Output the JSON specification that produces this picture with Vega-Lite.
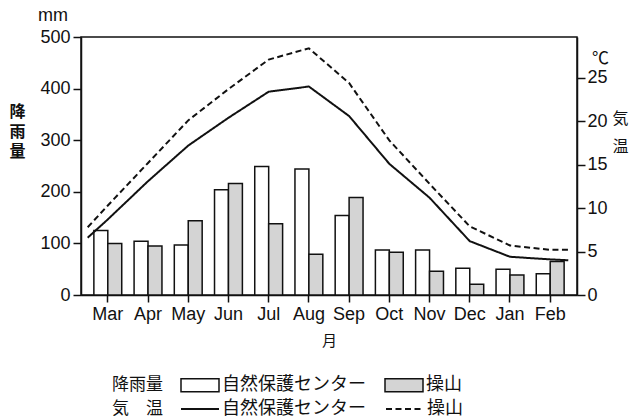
{
  "$schema": "https://vega.github.io/schema/vega-lite/v6.json",
  "width": 496,
  "height": 258,
  "autosize": {"type": "none"},
  "padding": {"left": 81, "top": 37, "right": 56, "bottom": 124},
  "title": {"text": "mm", "anchor": "start", "frame": "group", "dx": -43, "offset": -11, "baseline": "alphabetic", "fontSize": 18, "fontWeight": "normal", "color": "#111"},
  "config": {
    "font": "Liberation Sans, Noto Sans CJK JP, sans-serif",
    "view": {"stroke": "#111", "strokeWidth": 1.5},
    "axis": {"domainColor": "#111", "domainWidth": 1.5, "tickColor": "#111", "tickWidth": 1.5, "labelColor": "#111", "titleColor": "#111", "grid": false, "labelFontSize": 18, "titleFontWeight": "normal"},
    "legend": {"labelColor": "#111", "titleColor": "#111", "labelLimit": 300, "titleLimit": 300}
  },
  "datasets": {
    "rain": [
      {"month": "Mar", "site": "自然保護センター", "rain": 125}, {"month": "Mar", "site": "操山", "rain": 100},
      {"month": "Apr", "site": "自然保護センター", "rain": 104}, {"month": "Apr", "site": "操山", "rain": 95},
      {"month": "May", "site": "自然保護センター", "rain": 97}, {"month": "May", "site": "操山", "rain": 144},
      {"month": "Jun", "site": "自然保護センター", "rain": 204}, {"month": "Jun", "site": "操山", "rain": 216},
      {"month": "Jul", "site": "自然保護センター", "rain": 249}, {"month": "Jul", "site": "操山", "rain": 138},
      {"month": "Aug", "site": "自然保護センター", "rain": 244}, {"month": "Aug", "site": "操山", "rain": 79},
      {"month": "Sep", "site": "自然保護センター", "rain": 154}, {"month": "Sep", "site": "操山", "rain": 189},
      {"month": "Oct", "site": "自然保護センター", "rain": 87}, {"month": "Oct", "site": "操山", "rain": 83},
      {"month": "Nov", "site": "自然保護センター", "rain": 87}, {"month": "Nov", "site": "操山", "rain": 46},
      {"month": "Dec", "site": "自然保護センター", "rain": 52}, {"month": "Dec", "site": "操山", "rain": 21},
      {"month": "Jan", "site": "自然保護センター", "rain": 50}, {"month": "Jan", "site": "操山", "rain": 39},
      {"month": "Feb", "site": "自然保護センター", "rain": 41}, {"month": "Feb", "site": "操山", "rain": 65}
    ],
    "temp": [
      {"pos": -0.5, "station": "自然保護センター", "temp": 6.6}, {"pos": 0, "station": "自然保護センター", "temp": 8.7},
      {"pos": 1, "station": "自然保護センター", "temp": 13.1}, {"pos": 2, "station": "自然保護センター", "temp": 17.2},
      {"pos": 3, "station": "自然保護センター", "temp": 20.4}, {"pos": 4, "station": "自然保護センター", "temp": 23.4},
      {"pos": 5, "station": "自然保護センター", "temp": 24.0}, {"pos": 6, "station": "自然保護センター", "temp": 20.6},
      {"pos": 7, "station": "自然保護センター", "temp": 15.1}, {"pos": 8, "station": "自然保護センター", "temp": 11.2},
      {"pos": 9, "station": "自然保護センター", "temp": 6.2}, {"pos": 10, "station": "自然保護センター", "temp": 4.4},
      {"pos": 11, "station": "自然保護センター", "temp": 4.1}, {"pos": 11.45, "station": "自然保護センター", "temp": 4.0},
      {"pos": -0.5, "station": "操山", "temp": 7.8}, {"pos": 0, "station": "操山", "temp": 10.3},
      {"pos": 1, "station": "操山", "temp": 15.2}, {"pos": 2, "station": "操山", "temp": 20.1},
      {"pos": 3, "station": "操山", "temp": 23.7}, {"pos": 4, "station": "操山", "temp": 27.1},
      {"pos": 5, "station": "操山", "temp": 28.4}, {"pos": 6, "station": "操山", "temp": 24.4},
      {"pos": 7, "station": "操山", "temp": 17.8}, {"pos": 8, "station": "操山", "temp": 12.8},
      {"pos": 9, "station": "操山", "temp": 7.9}, {"pos": 10, "station": "操山", "temp": 5.7},
      {"pos": 11, "station": "操山", "temp": 5.2}, {"pos": 11.45, "station": "操山", "temp": 5.2}
    ]
  },
  "layer": [
    {
      "data": {"name": "rain"},
      "mark": {"type": "bar", "stroke": "#111", "strokeWidth": 1.5},
      "encoding": {
        "x": {"field": "month", "type": "nominal", "sort": null,
          "scale": {"paddingInner": 0.307, "paddingOuter": 0.32, "round": false},
          "axis": {"labelAngle": 0, "tickSize": 7, "labelPadding": 3, "title": "月", "titleFontSize": 15, "titlePadding": 10}},
        "xOffset": {"field": "site", "type": "nominal", "scale": {"domain": ["自然保護センター", "操山"], "paddingInner": 0, "paddingOuter": 0}},
        "y": {"field": "rain", "type": "quantitative", "scale": {"domain": [0, 500], "nice": false},
          "axis": {"values": [0, 100, 200, 300, 400, 500], "tickSize": 8, "labelPadding": 3,
            "title": ["降", "雨", "量"], "titleAngle": 0, "titleX": -64, "titleY": 66, "titleBaseline": "top", "titleAlign": "center", "titleLineHeight": 20, "titleFontSize": 16, "titleFontWeight": "bold"}},
        "fill": {"field": "site", "type": "nominal",
          "scale": {"domain": ["自然保護センター", "操山"], "range": ["white", "#d4d4d4"]},
          "legend": {"title": "降雨量", "orient": "none", "legendX": 31, "legendY": 328, "direction": "horizontal",
            "titleOrient": "left", "titleFontSize": 17, "titleFontWeight": "normal", "titlePadding": 17, "titleAnchor": "middle", "titleBaseline": "line-top", "titleLineHeight": 10,
            "labelFontSize": 18, "symbolType": "M-1,-0.342H1V0.342H-1Z", "symbolSize": 1444, "symbolStrokeColor": "#111", "symbolStrokeWidth": 1.5,
            "labelOffset": 2, "columnPadding": 16}}
      }
    },
    {
      "data": {"name": "temp"},
      "mark": {"type": "line", "color": "#111", "strokeWidth": 2},
      "encoding": {
        "x": {"field": "pos", "type": "quantitative", "scale": {"domain": [-0.6664, 11.6669], "nice": false, "zero": false},
          "axis": {"orient": "top", "domain": false, "ticks": false, "labels": false, "title": "℃", "titleX": 519, "titleY": 26, "titleBaseline": "alphabetic", "titleAlign": "center", "titleFontSize": 17}},
        "y": {"field": "temp", "type": "quantitative", "scale": {"domain": [0, 29.7], "nice": false},
          "axis": {"orient": "right", "values": [0, 5, 10, 15, 20, 25], "tickSize": 8, "labelPadding": 2,
            "title": ["気", "温"], "titleAngle": 0, "titleX": 43, "titleY": 73, "titleBaseline": "top", "titleAlign": "center", "titleLineHeight": 28, "titleFontSize": 16}},
        "strokeDash": {"field": "station", "type": "nominal",
          "scale": {"domain": ["自然保護センター", "操山"], "range": [[1, 0], [6, 3.5]]},
          "legend": {"title": "気　温", "orient": "none", "legendX": 31, "legendY": 352, "direction": "horizontal",
            "titleOrient": "left", "titleFontSize": 17, "titleFontWeight": "normal", "titlePadding": 17, "titleAnchor": "middle", "titleBaseline": "line-top", "titleLineHeight": 10,
            "labelFontSize": 18, "symbolType": "M-1,0H1", "symbolSize": 1444, "symbolStrokeColor": "#111", "symbolStrokeWidth": 2,
            "labelOffset": 2, "columnPadding": 16}}
      }
    }
  ],
  "resolve": {"scale": {"x": "independent", "y": "independent", "fill": "independent", "strokeDash": "independent"}}
}
